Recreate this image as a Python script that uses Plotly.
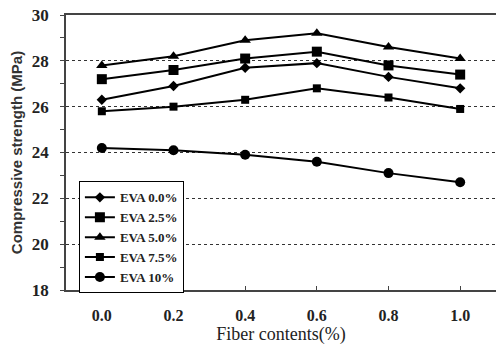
import plotly.graph_objects as go

# Fiber content categories (%)
fiber = ["0.0", "0.2", "0.4", "0.6", "0.8", "1.0"]

# Compressive strength (MPa) for each EVA dosage
eva_00 = [26.3, 26.9, 27.7, 27.9, 27.3, 26.8]
eva_25 = [27.2, 27.6, 28.1, 28.4, 27.8, 27.4]
eva_50 = [27.8, 28.2, 28.9, 29.2, 28.6, 28.1]
eva_75 = [25.8, 26.0, 26.3, 26.8, 26.4, 25.9]
eva_10 = [24.2, 24.1, 23.9, 23.6, 23.1, 22.7]

y_ticks = [18, 20, 22, 24, 26, 28, 30]

FONT = "Liberation Serif"
SANS = "Liberation Sans"

series = [
    ("EVA 0.0%", eva_00, "diamond", 8),
    ("EVA 2.5%", eva_25, "square", 10),
    ("EVA 5.0%", eva_50, "triangle-up", 10),
    ("EVA 7.5%", eva_75, "square", 8),
    ("EVA 10%", eva_10, "circle", 10),
]

fig = go.Figure()
for name, vals, sym, size in series:
    fig.add_trace(go.Scatter(
        x=fiber, y=vals, name=name, mode="lines+markers",
        line=dict(color="black", width=2),
        marker=dict(symbol=sym, size=size, color="black"),
    ))

fig.update_layout(
    width=496, height=346,
    margin=dict(l=66, r=0, t=15, b=56),
    paper_bgcolor="white", plot_bgcolor="white",
    font=dict(family=FONT, size=14, color="#222", weight="bold"),
    showlegend=True,
    legend=dict(
        x=0.03, y=0.395, xanchor="left", yanchor="top",
        bordercolor="black", borderwidth=1, bgcolor="white",
        font=dict(family=FONT, size=13, color="#222", weight="bold"),
        itemwidth=30, tracegroupgap=0,
    ),
)

fig.update_xaxes(
    type="category", range=[-0.5, 5.5],
    showline=True, linecolor="#444", linewidth=1.5, mirror=True,
    ticks="inside", ticklen=4, tickcolor="#444",
    showgrid=False, zeroline=False, ticklabelstandoff=10,
    title=dict(text="Fiber contents(%)", standoff=2,
               font=dict(family=FONT, size=18, color="#222", weight="normal")),
    tickfont=dict(family=FONT, size=16, color="#222", weight="bold"),
)

fig.update_yaxes(
    range=[18, 30], tickvals=y_ticks,
    showline=True, linecolor="#444", linewidth=1.5,
    ticks="outside", ticklen=4, tickcolor="#444",
    minor=dict(dtick=1, ticks="outside", ticklen=4, tickcolor="#444", showgrid=False),
    showgrid=True, gridcolor="#333", gridwidth=1, griddash="dot",
    zeroline=False, ticklabelstandoff=8,
    title=dict(text="Compressive strength (MPa)", standoff=6,
               font=dict(family=SANS, size=15, color="#333", weight="bold")),
    tickfont=dict(family=FONT, size=17, color="#222", weight="bold"),
)

fig.write_html("out.html")
